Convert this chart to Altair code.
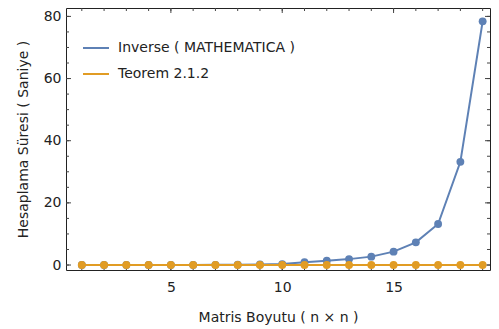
import altair as alt
import pandas as pd

n_values = list(range(1, 20))
inverse_times = [0.0, 0.0, 0.01, 0.01, 0.02, 0.03, 0.05, 0.08, 0.15, 0.3,
                 0.9, 1.4, 1.9, 2.7, 4.3, 7.3, 13.2, 33.2, 78.4]
teorem_times = [0.01] * 19
series_names = ["Inverse ( MATHEMATICA )", "Teorem 2.1.2"]
series_colors = ["#5E81B5", "#E19C24"]

x_major = [5, 10, 15]
x_minor = list(range(1, 20))
y_major = [0, 20, 40, 60, 80]
y_minor = list(range(0, 81, 5))

W, H = 424, 262
X_DOMAIN = [0.29, 19.33]
Y_DOMAIN = [-1.6, 82.7]
FONT = "DejaVu Sans"
FS = 14

df = pd.DataFrame({
    "n": n_values * 2,
    "t": inverse_times + teorem_times,
    "s": [series_names[0]] * 19 + [series_names[1]] * 19,
})

xs = alt.Scale(domain=X_DOMAIN, nice=False, zero=False)
ys = alt.Scale(domain=Y_DOMAIN, nice=False, zero=False)
cs = alt.Scale(domain=series_names, range=series_colors)

x_axis = alt.Axis(values=x_major, ticks=False, domain=False, grid=False,
                  labelPadding=10, title="Matris Boyutu ( n × n )", titlePadding=16,
                  labelFont=FONT, labelFontSize=FS, titleFont=FONT, titleFontSize=FS,
                  titleFontWeight="normal", labelColor="#222", titleColor="#222")
y_axis = alt.Axis(values=y_major, ticks=False, domain=False, grid=False,
                  labelPadding=5, title="Hesaplama Süresi ( Saniye )", titlePadding=13,
                  labelFont=FONT, labelFontSize=FS, titleFont=FONT, titleFontSize=FS,
                  titleFontWeight="normal", labelColor="#222", titleColor="#222")

legend = alt.Legend(title=None, orient="none", legendX=16, legendY=26,
                    symbolType="stroke", symbolStrokeWidth=2, symbolSize=676,
                    labelFont=FONT, labelFontSize=FS, labelColor="#222", labelLimit=0,
                    rowPadding=5, labelOffset=8)

layers = []
for i, name in enumerate(series_names):
    sub = df[df["s"] == name]
    base = alt.Chart(sub).encode(
        x=alt.X("n:Q", scale=xs, axis=x_axis),
        y=alt.Y("t:Q", scale=ys, axis=y_axis),
        color=alt.Color("s:N", scale=cs, legend=legend),
    )
    layers.append(base.mark_line(strokeWidth=2, clip=True))
    layers.append(base.mark_circle(size=62, opacity=1, clip=True))

TICK_COLOR = "#444"

def yticks(vals, length):
    d = pd.DataFrame({"v": vals})
    left = alt.Chart(d).mark_rule(color=TICK_COLOR, strokeWidth=1).encode(
        y=alt.Y("v:Q", scale=ys), x=alt.value(0), x2=alt.value(length))
    right = alt.Chart(d).mark_rule(color=TICK_COLOR, strokeWidth=1).encode(
        y=alt.Y("v:Q", scale=ys), x=alt.value(W - length), x2=alt.value(W))
    return [left, right]

def xticks(vals, length):
    d = pd.DataFrame({"v": vals})
    top = alt.Chart(d).mark_rule(color=TICK_COLOR, strokeWidth=1).encode(
        x=alt.X("v:Q", scale=xs), y=alt.value(0), y2=alt.value(length))
    bottom = alt.Chart(d).mark_rule(color=TICK_COLOR, strokeWidth=1).encode(
        x=alt.X("v:Q", scale=xs), y=alt.value(H - length), y2=alt.value(H))
    return [top, bottom]

tick_layers = yticks(y_minor, 3) + yticks(y_major, 5) + xticks(x_minor, 3) + xticks(x_major, 5)

chart = alt.layer(*(tick_layers + layers)).properties(
    width=W, height=H,
    autosize=alt.AutoSizeParams(type="none"),
    padding={"left": 58, "top": 0, "right": 1, "bottom": 58},
).configure(background="white").configure_view(stroke="#222", strokeWidth=1)

chart.save("out.html", embed_options={"renderer": "svg", "actions": False})
